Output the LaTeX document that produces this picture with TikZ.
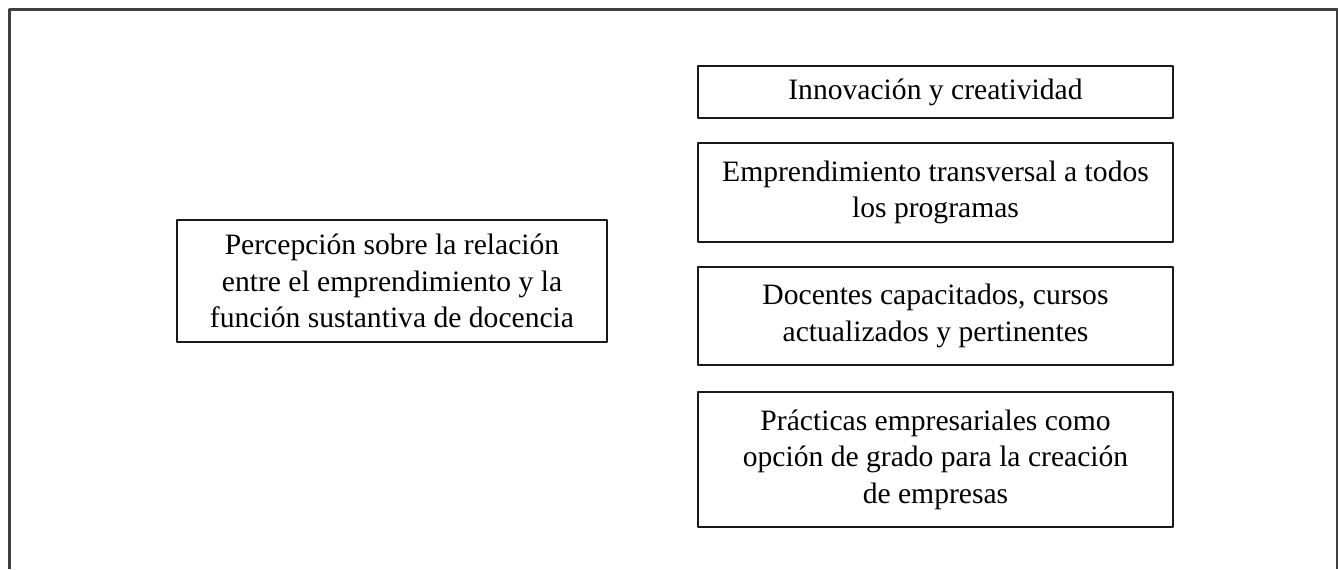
\documentclass[tikz,border=0pt]{standalone}
\usepackage{fontspec}
\setmainfont{Liberation Serif}
\usepackage{tikz}

\begin{document}
\begin{tikzpicture}[x=1pt,y=1pt,join=round] % Emprendimiento y docencia
       \useasboundingbox (0,0) rectangle (669,284.5);
       \tikzset{caja/.style={draw=black!90,line width=0.75pt,align=center,inner sep=0pt,
                font=\fontsize{14.8}{18.2}\selectfont}}
       \draw[black!75,line width=1.1pt](4.75,0)--(4.75,279.75)--(668.75,279.75)--(668.75,0);
       \node[caja,minimum width=215pt,minimum height=61pt] (percepcion) at (196,144)
                {Percepción sobre la relación\\entre el emprendimiento y la\\función sustantiva de docencia};
       \node[caja,minimum width=237.5pt,minimum height=26pt] (innovacion) at (467.75,238.5)
                {Innovación y creatividad};
       \node[caja,minimum width=237.5pt,minimum height=49.5pt] (transversal) at (467.75,188.25)
                {Emprendimiento transversal a todos\\los programas};
       \node[caja,minimum width=237.5pt,minimum height=49pt] (docentes) at (467.75,126.5)
                {Docentes capacitados, cursos\\actualizados y pertinentes};
       \node[caja,minimum width=237.5pt,minimum height=67.5pt] (practicas) at (467.75,54.75)
                {Prácticas empresariales como\\opción de grado para la creación\\de empresas};
    \end{tikzpicture}
\end{document}
